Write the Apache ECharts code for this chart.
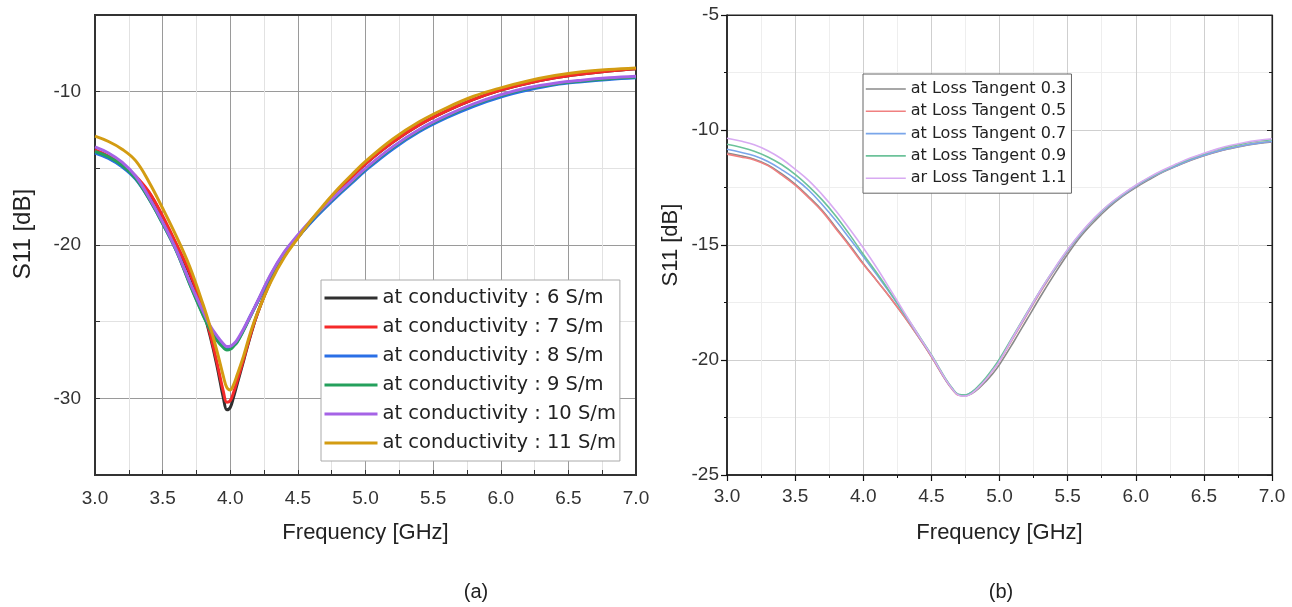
<!DOCTYPE html>
<html>
<head>
<meta charset="utf-8">
<script src="https://cdn.jsdelivr.net/npm/echarts@6/dist/echarts.min.js"></script>
<style>
html,body{margin:0;padding:0;background:#fff;}
#c{width:1292px;height:607px;}
</style>
</head>
<body>
<div id="c"></div>
<script>
// ---------- Panel (a): S11 vs frequency for several conductivities ----------
const freqA = [3.0,3.1,3.2,3.3,3.4,3.5,3.6,3.7,3.8,3.85,3.9,3.95,3.975,4.0,4.025,4.05,4.1,4.15,4.2,4.3,4.4,4.5,4.6,4.7,4.8,4.9,5.0,5.2,5.4,5.6,5.8,6.0,6.2,6.4,6.6,6.8,7.0];
const cond6  = [-13.95,-14.3,-14.85,-15.6,-16.6,-18.2,-20.0,-21.9,-24.3,-25.9,-27.8,-30.0,-30.75,-30.6,-29.9,-29.1,-27.5,-25.9,-24.5,-22.3,-20.7,-19.5,-18.45,-17.4,-16.45,-15.55,-14.7,-13.3,-12.15,-11.25,-10.5,-9.9,-9.45,-9.1,-8.85,-8.65,-8.5];
const cond7  = [-13.8,-14.2,-14.75,-15.5,-16.55,-18.1,-19.9,-21.8,-24.2,-25.75,-27.6,-29.6,-30.25,-30.15,-29.6,-28.9,-27.4,-25.85,-24.5,-22.3,-20.7,-19.5,-18.45,-17.4,-16.45,-15.55,-14.7,-13.3,-12.15,-11.25,-10.5,-9.9,-9.45,-9.1,-8.85,-8.65,-8.5];
const cond8  = [-14.0,-14.35,-14.9,-15.7,-17.0,-18.6,-20.35,-22.5,-24.55,-25.45,-26.15,-26.65,-26.8,-26.75,-26.55,-26.3,-25.5,-24.6,-23.75,-22.0,-20.6,-19.5,-18.5,-17.6,-16.75,-15.95,-15.15,-13.75,-12.6,-11.7,-10.95,-10.35,-9.9,-9.55,-9.35,-9.2,-9.1];
const cond9  = [-13.9,-14.25,-14.8,-15.65,-17.0,-18.6,-20.35,-22.55,-24.6,-25.5,-26.2,-26.7,-26.85,-26.8,-26.6,-26.35,-25.55,-24.65,-23.75,-21.95,-20.5,-19.4,-18.4,-17.5,-16.65,-15.85,-15.05,-13.65,-12.5,-11.6,-10.85,-10.25,-9.8,-9.5,-9.3,-9.15,-9.05];
const cond10 = [-13.6,-14.0,-14.6,-15.5,-16.9,-18.5,-20.3,-22.4,-24.35,-25.25,-25.9,-26.45,-26.62,-26.6,-26.45,-26.2,-25.45,-24.6,-23.7,-21.9,-20.45,-19.35,-18.35,-17.45,-16.6,-15.8,-15.0,-13.6,-12.45,-11.55,-10.8,-10.2,-9.75,-9.45,-9.25,-9.1,-9.0];
const cond11 = [-12.9,-13.25,-13.75,-14.5,-15.9,-17.6,-19.4,-21.4,-23.9,-25.3,-26.85,-28.6,-29.3,-29.45,-29.1,-28.5,-27.2,-25.7,-24.45,-22.4,-20.8,-19.55,-18.35,-17.3,-16.3,-15.4,-14.55,-13.1,-11.95,-11.05,-10.3,-9.75,-9.3,-8.95,-8.7,-8.55,-8.45];
const namesA = ['at conductivity : 6 S/m','at conductivity : 7 S/m','at conductivity : 8 S/m','at conductivity : 9 S/m','at conductivity : 10 S/m','at conductivity : 11 S/m'];
const colorsA = ['#303030','#f52a2a','#2a6fe6','#24a05c','#a563e6','#d39c12'];
const yTickLabelsA = ['-10','-20','-30'];

// ---------- Panel (b): S11 vs frequency for several loss tangents ----------
const freqB = [3.0,3.1,3.2,3.3,3.4,3.5,3.6,3.7,3.8,3.9,4.0,4.1,4.2,4.3,4.4,4.5,4.55,4.6,4.65,4.7,4.75,4.8,4.85,4.9,4.95,5.0,5.1,5.2,5.3,5.4,5.5,5.6,5.7,5.8,5.9,6.0,6.1,6.2,6.3,6.4,6.5,6.6,6.7,6.8,6.9,7.0];
const lt03 = [-11.0,-11.12,-11.27,-11.52,-11.9,-12.35,-12.9,-13.5,-14.25,-15.0,-15.8,-16.55,-17.3,-18.1,-18.95,-19.85,-20.35,-20.83,-21.24,-21.52,-21.56,-21.45,-21.22,-20.93,-20.6,-20.2,-19.25,-18.25,-17.25,-16.3,-15.4,-14.6,-13.95,-13.38,-12.9,-12.5,-12.15,-11.83,-11.57,-11.33,-11.12,-10.94,-10.8,-10.68,-10.58,-10.52];
const lt05 = [-11.05,-11.17,-11.3,-11.55,-11.95,-12.4,-12.95,-13.55,-14.3,-15.05,-15.84,-16.55,-17.3,-18.1,-18.95,-19.85,-20.34,-20.83,-21.25,-21.53,-21.55,-21.42,-21.16,-20.84,-20.46,-20.05,-19.05,-18.05,-17.05,-16.12,-15.27,-14.5,-13.85,-13.3,-12.85,-12.45,-12.1,-11.8,-11.55,-11.3,-11.1,-10.92,-10.78,-10.66,-10.56,-10.5];
const lt07 = [-10.84,-10.97,-11.12,-11.37,-11.72,-12.12,-12.62,-13.25,-13.95,-14.72,-15.5,-16.3,-17.12,-18.0,-18.9,-19.8,-20.3,-20.8,-21.22,-21.5,-21.52,-21.38,-21.12,-20.8,-20.42,-20.0,-19.0,-18.0,-17.0,-16.1,-15.25,-14.5,-13.85,-13.3,-12.85,-12.45,-12.1,-11.8,-11.55,-11.3,-11.1,-10.92,-10.78,-10.66,-10.57,-10.5];
const lt09 = [-10.62,-10.75,-10.92,-11.17,-11.5,-11.93,-12.45,-13.05,-13.75,-14.55,-15.4,-16.22,-17.08,-17.97,-18.86,-19.77,-20.27,-20.77,-21.2,-21.5,-21.52,-21.38,-21.1,-20.77,-20.38,-19.95,-18.95,-17.95,-16.97,-16.07,-15.22,-14.47,-13.82,-13.27,-12.82,-12.42,-12.07,-11.77,-11.5,-11.25,-11.04,-10.85,-10.7,-10.58,-10.48,-10.42];
const lt11 = [-10.36,-10.48,-10.64,-10.9,-11.25,-11.7,-12.2,-12.82,-13.52,-14.3,-15.12,-16.0,-16.95,-17.92,-18.88,-19.8,-20.3,-20.8,-21.23,-21.53,-21.57,-21.43,-21.17,-20.85,-20.46,-20.05,-19.0,-17.98,-16.98,-16.05,-15.2,-14.45,-13.8,-13.25,-12.8,-12.4,-12.05,-11.74,-11.47,-11.22,-11.01,-10.82,-10.66,-10.54,-10.45,-10.38];
const namesB = ['at Loss Tangent 0.3','at Loss Tangent 0.5','at Loss Tangent 0.7','at Loss Tangent 0.9','ar Loss Tangent 1.1'];
const colorsB = ['#8a8a8a','#f08080','#7aa6ea','#6cc29a','#d8aaf2'];

const xTickLabels = ['3.0','3.5','4.0','4.5','5.0','5.5','6.0','6.5','7.0'];
const panelLabels = ['(a)','(b)'];

const zip = (xs, ys) => xs.map((x, i) => [x, ys[i]]);
const FONT = 'Liberation Sans, Arial, Helvetica, sans-serif';
const xFmt = v => { const s = v.toFixed(1); return xTickLabels.indexOf(s) >= 0 ? s : ''; };

const seriesA = [cond6, cond7, cond8, cond9, cond10, cond11].map((ys, i) => ({
  name: namesA[i], type: 'line', xAxisIndex: 0, yAxisIndex: 0,
  data: zip(freqA, ys), symbol: 'none', smooth: 0.4,
  lineStyle: { color: colorsA[i], width: 3 }, itemStyle: { color: colorsA[i] },
  z: 3 + i
}));
const seriesB = [lt03, lt05, lt07, lt09, lt11].map((ys, i) => ({
  name: namesB[i], type: 'line', xAxisIndex: 2, yAxisIndex: 2,
  data: zip(freqB, ys), symbol: 'none', smooth: 0.4,
  lineStyle: { color: colorsB[i], width: 1.6 }, itemStyle: { color: colorsB[i] },
  z: 3 + i
}));

const chart = echarts.init(document.getElementById('c'), null, { renderer: 'canvas' });
const option = {
  animation: false,
  backgroundColor: '#ffffff',
  textStyle: { fontFamily: FONT },
  grid: [
    { left: 95, top: 15, width: 541, height: 460, show: true, borderColor: '#333', borderWidth: 2, backgroundColor: 'rgba(0,0,0,0)' },
    { left: 727, top: 15, width: 545, height: 460, show: true, borderColor: '#222', borderWidth: 1, backgroundColor: 'rgba(0,0,0,0)' }
  ],
  xAxis: [
    { gridIndex: 0, type: 'value', min: 3, max: 7, interval: 0.5, position: 'bottom',
      axisLine: { show: true, lineStyle: { color: '#333', width: 2 } },
      axisTick: { show: true, inside: true, length: 5, lineStyle: { color: '#333' } },
      minorTick: { show: true, splitNumber: 2, length: 5, lineStyle: { color: '#333' } },
      axisLabel: { margin: 14, fontSize: 19, color: '#333', fontFamily: FONT, formatter: xFmt },
      splitLine: { show: true, showMinLine: false, showMaxLine: false, lineStyle: { color: '#9a9a9a', width: 1 } },
      minorSplitLine: { show: true, lineStyle: { color: '#e2e2e2', width: 1 } },
      name: 'Frequency [GHz]', nameLocation: 'middle', nameGap: 47,
      nameTextStyle: { fontSize: 22, color: '#222', fontFamily: FONT } },
    { gridIndex: 0, type: 'value', min: 3, max: 7, interval: 0.5, position: 'top',
      axisLine: { show: true, lineStyle: { color: '#333', width: 2 } },
      axisTick: { show: false }, axisLabel: { show: false }, splitLine: { show: false } },
    { gridIndex: 1, type: 'value', min: 3, max: 7, interval: 0.5, position: 'bottom',
      axisLine: { show: true, lineStyle: { color: '#111', width: 1.5 } },
      axisTick: { show: true, inside: false, length: 6, lineStyle: { color: '#111', width: 1.2 } },
      minorTick: { show: true, splitNumber: 2, length: 3, lineStyle: { color: '#111' } },
      axisLabel: { margin: 12, fontSize: 19, color: '#333', fontFamily: FONT, formatter: xFmt },
      splitLine: { show: true, showMinLine: false, showMaxLine: false, lineStyle: { color: '#cfcfcf', width: 1 } },
      minorSplitLine: { show: true, lineStyle: { color: '#eeeeee', width: 1 } },
      name: 'Frequency [GHz]', nameLocation: 'middle', nameGap: 47,
      nameTextStyle: { fontSize: 22, color: '#222', fontFamily: FONT } },
    { gridIndex: 1, type: 'value', min: 3, max: 7, interval: 0.5, position: 'top',
      axisLine: { show: true, lineStyle: { color: '#222', width: 1.2 } },
      axisTick: { show: false }, axisLabel: { show: false }, splitLine: { show: false } }
  ],
  yAxis: [
    { gridIndex: 0, type: 'value', min: -35, max: -5, interval: 5, position: 'left',
      axisLine: { show: true, lineStyle: { color: '#333', width: 2 } },
      axisTick: { show: true, inside: true, length: 5, lineStyle: { color: '#333' } },
      axisLabel: { margin: 14, fontSize: 19, color: '#333', fontFamily: FONT,
        formatter: v => (yTickLabelsA.indexOf(String(v)) >= 0 ? String(v) : '') },
      splitLine: { show: true, showMinLine: false, showMaxLine: false, lineStyle: { color: ['#9a9a9a', '#e2e2e2'], width: 1 } },
      name: 'S11 [dB]', nameLocation: 'middle', nameGap: 60,
      nameTextStyle: { fontSize: 24, color: '#222', fontFamily: FONT, padding: [0, 0, 0, 22] } },
    { gridIndex: 0, type: 'value', min: -35, max: -5, interval: 5, position: 'right',
      axisLine: { show: true, lineStyle: { color: '#333', width: 2 } },
      axisTick: { show: false }, axisLabel: { show: false }, splitLine: { show: false } },
    { gridIndex: 1, type: 'value', min: -25, max: -5, interval: 5, position: 'left',
      axisLine: { show: true, lineStyle: { color: '#111', width: 1.5 } },
      axisTick: { show: true, inside: false, length: 6, lineStyle: { color: '#111', width: 1.2 } },
      minorTick: { show: true, splitNumber: 2, length: 3, lineStyle: { color: '#111' } },
      axisLabel: { margin: 8, fontSize: 19, color: '#333', fontFamily: FONT },
      splitLine: { show: true, showMinLine: false, showMaxLine: false, lineStyle: { color: '#cfcfcf', width: 1 } },
      minorSplitLine: { show: true, lineStyle: { color: '#eeeeee', width: 1 } },
      name: 'S11 [dB]', nameLocation: 'middle', nameGap: 45,
      nameTextStyle: { fontSize: 22, color: '#222', fontFamily: FONT } },
    { gridIndex: 1, type: 'value', min: -25, max: -5, interval: 5, position: 'right',
      axisLine: { show: true, lineStyle: { color: '#222', width: 1.2 } },
      axisTick: { show: true, inside: true, length: 5, lineStyle: { color: '#222' } },
      minorTick: { show: true, splitNumber: 2, length: 3, lineStyle: { color: '#222' } },
      axisLabel: { show: false }, splitLine: { show: false } }
  ],
  legend: [
    { data: namesA, orient: 'vertical', left: 321, top: 280,
      padding: [8, 4, 8, 2], itemWidth: 53, itemHeight: 20, itemGap: 9,
      backgroundColor: '#ffffff', borderColor: '#aaaaaa', borderWidth: 1, borderRadius: 0,
      itemStyle: { opacity: 0 }, lineStyle: { width: 3 },
      selectedMode: false,
      textStyle: { fontFamily: 'DejaVu Sans', fontSize: 19.5, color: '#222', lineHeight: 20 } },
    { data: namesB, orient: 'vertical', left: 863, top: 74,
      padding: [7, 5, 7, 2], itemWidth: 40, itemHeight: 16, itemGap: 6.3,
      backgroundColor: '#ffffff', borderColor: '#666666', borderWidth: 1, borderRadius: 0,
      itemStyle: { opacity: 0 }, lineStyle: { width: 1.6 },
      selectedMode: false,
      textStyle: { fontFamily: 'DejaVu Sans', fontSize: 16, color: '#222', lineHeight: 16 } }
  ],
  graphic: [
    { type: 'text', x: 476, y: 592, style: { text: panelLabels[0], font: '20px Liberation Sans', fill: '#222', align: 'center', verticalAlign: 'middle' } },
    { type: 'text', x: 1001, y: 592, style: { text: panelLabels[1], font: '20px Liberation Sans', fill: '#222', align: 'center', verticalAlign: 'middle' } }
  ],
  series: seriesA.concat(seriesB)
};
chart.setOption(option);
</script>
</body>
</html>
